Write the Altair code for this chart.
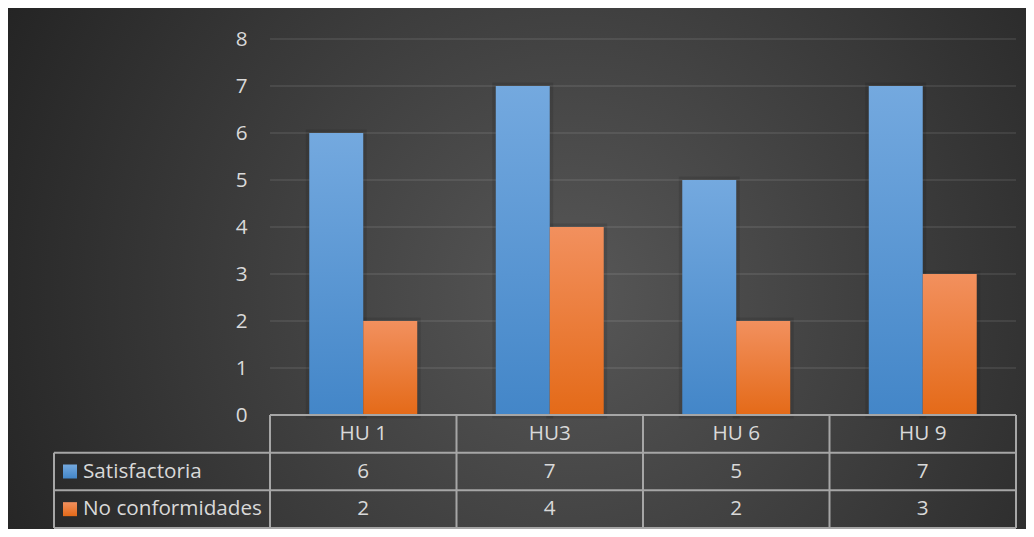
import altair as alt
import pandas as pd

# ---- data ----
categories = ["HU 1", "HU3", "HU 6", "HU 9"]
series_names = ["Satisfactoria", "No conformidades"]
satisfactoria = [6, 7, 5, 7]
no_conformidades = [2, 4, 2, 3]
y_ticks = [0, 1, 2, 3, 4, 5, 6, 7, 8]
row_names = ["header"] + series_names

long = pd.DataFrame({
    "cat": categories * 2,
    "series": [s for s in series_names for _ in categories],
    "value": satisfactoria + no_conformidades,
})

# ---- layout / style ----
W, H = 746, 376
TABLE_TOP, TABLE_BOTTOM = 376, 489
ROW_H = (TABLE_BOTTOM - TABLE_TOP) / 3
LEFT_COL = -216
FONT = "Open Sans"
FS = 20.7
TXT = "#d9d9d9"
LINE = "#a6a6a6"

blue_grad = {"gradient": "linear", "x1": 0, "y1": 0, "x2": 0, "y2": 1,
             "stops": [{"offset": 0, "color": "#74a9df"}, {"offset": 1, "color": "#4386c8"}]}
orange_grad = {"gradient": "linear", "x1": 0, "y1": 0, "x2": 0, "y2": 1,
               "stops": [{"offset": 0, "color": "#f2905e"}, {"offset": 1, "color": "#e46a18"}]}
bg_grad = {"gradient": "radial", "x1": 0.55, "y1": 0.52, "r1": 0, "x2": 0.55, "y2": 0.52, "r2": 0.62,
           "stops": [{"offset": 0, "color": "#575757"}, {"offset": 1, "color": "#242424"}]}
grads = {"Satisfactoria": blue_grad, "No conformidades": orange_grad}

xscale = alt.Scale(domain=categories, paddingInner=0, paddingOuter=0)
xoff = alt.Scale(domain=series_names, paddingInner=0, paddingOuter=0.727)
yscale = alt.Scale(domain=[0, 8], nice=False, zero=True)
rowscale = alt.Scale(domain=row_names, range=[TABLE_TOP, TABLE_BOTTOM], paddingInner=0, paddingOuter=0)

one = pd.DataFrame({"a": [0]})

bg = alt.Chart(one).mark_rect(fill=bg_grad).encode(
    x=alt.value(-262), x2=alt.value(764), y=alt.value(-31), y2=alt.value(498)
)

grid = alt.Chart(pd.DataFrame({"v": y_ticks[1:]})).mark_rule(
    color="#ffffff", opacity=0.11, strokeWidth=1.5
).encode(
    y=alt.Y("v:Q", scale=yscale, axis=None), x=alt.value(0), x2=alt.value(W)
)

yaxis = alt.Axis(values=y_ticks, grid=False, domain=False, ticks=False, labelPadding=23,
                 labelFontSize=FS, labelColor=TXT, labelFont=FONT, title=None, zindex=1, format="d")


def bar_layer(name, axis, shadow=False):
    if shadow:
        mark = alt.MarkDef(type="bar", fill="#000000", fillOpacity=0.12,
                           stroke="#000000", strokeOpacity=0.10, strokeWidth=7)
    else:
        mark = alt.MarkDef(type="bar", fill=grads[name])
    return alt.Chart(long, mark=mark).transform_filter(alt.datum.series == name).encode(
        x=alt.X("cat:N", scale=xscale, axis=None, sort=categories),
        xOffset=alt.XOffset("series:N", scale=xoff, sort=series_names),
        y=alt.Y("value:Q", scale=yscale, axis=axis),
    )


shadow_blue = bar_layer(series_names[0], None, shadow=True)
shadow_orange = bar_layer(series_names[1], None, shadow=True)
bars_blue = bar_layer(series_names[0], yaxis)
bars_orange = bar_layer(series_names[1], None)

rule_kw = dict(color=LINE, strokeWidth=2)

h_rows = alt.Chart(pd.DataFrame({"row": series_names})).mark_rule(**rule_kw).encode(
    y=alt.Y("row:N", scale=rowscale, bandPosition=0, axis=None), x=alt.value(LEFT_COL), x2=alt.value(W)
)
h_bottom = alt.Chart(pd.DataFrame({"row": [series_names[-1]]})).mark_rule(**rule_kw).encode(
    y=alt.Y("row:N", scale=rowscale, bandPosition=1, axis=None), x=alt.value(LEFT_COL), x2=alt.value(W)
)
h_top = alt.Chart(pd.DataFrame({"row": ["header"]})).mark_rule(**rule_kw).encode(
    y=alt.Y("row:N", scale=rowscale, bandPosition=0, axis=None), x=alt.value(0), x2=alt.value(W)
)
v_cols = alt.Chart(pd.DataFrame({"cat": categories})).mark_rule(**rule_kw).encode(
    x=alt.X("cat:N", scale=xscale, bandPosition=0, axis=None, sort=categories),
    y=alt.value(TABLE_TOP), y2=alt.value(TABLE_BOTTOM)
)
v_right = alt.Chart(one).mark_rule(**rule_kw).encode(
    x=alt.value(W), y=alt.value(TABLE_TOP), y2=alt.value(TABLE_BOTTOM)
)
v_left = alt.Chart(one).mark_rule(**rule_kw).encode(
    x=alt.value(LEFT_COL), y=alt.value(TABLE_TOP + ROW_H), y2=alt.value(TABLE_BOTTOM)
)

txt_kw = dict(font=FONT, fontSize=FS, color=TXT, baseline="middle")

header_txt = alt.Chart(pd.DataFrame({"cat": categories, "row": ["header"] * len(categories)})).mark_text(
    **txt_kw
).encode(
    x=alt.X("cat:N", scale=xscale, axis=None, sort=categories),
    y=alt.Y("row:N", scale=rowscale, axis=None),
    text="cat:N",
)
value_txt = alt.Chart(long).mark_text(**txt_kw).encode(
    x=alt.X("cat:N", scale=xscale, axis=None, sort=categories),
    y=alt.Y("series:N", scale=rowscale, axis=None),
    text="value:Q",
)
legend_txt = alt.Chart(pd.DataFrame({"series": series_names})).mark_text(align="left", **txt_kw).encode(
    x=alt.value(-187),
    y=alt.Y("series:N", scale=rowscale, axis=None),
    text="series:N",
)


def legend_sq(name):
    return alt.Chart(pd.DataFrame({"series": [name]})).mark_square(
        size=196, fill=grads[name], filled=True, opacity=1
    ).encode(
        x=alt.value(-200),
        y=alt.Y("series:N", scale=rowscale, axis=None),
    )


chart = alt.layer(
    bg, grid, shadow_blue, shadow_orange, bars_blue, bars_orange,
    h_rows, h_bottom, h_top, v_cols, v_right, v_left,
    header_txt, value_txt, legend_txt,
    legend_sq(series_names[0]), legend_sq(series_names[1]),
).resolve_scale(
    y="independent"
).properties(
    width=W, height=H,
    padding={"left": 262, "top": 31, "right": 10, "bottom": 114},
    autosize="none",
    background="#2a2a2a",
).configure_view(strokeWidth=0)

chart.save("out.html", embed_options={"renderer": "svg", "actions": False})
